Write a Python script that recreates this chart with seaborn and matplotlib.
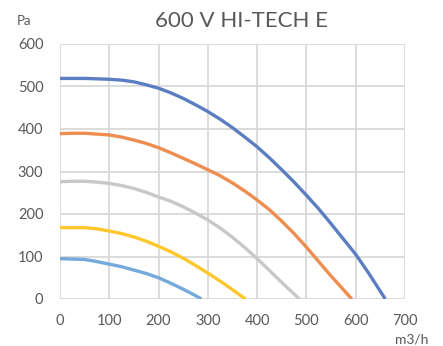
import matplotlib
matplotlib.use("Agg")
import matplotlib.pyplot as plt
import seaborn as sns
import pandas as pd

title = "600 V HI-TECH E"
x_label = "m3/h"
y_label = "Pa"

series_names = ["S1", "S2", "S3", "S4", "S5"]
colors = ["#5B7EC2", "#EE8D4F", "#C8C8C8", "#FFC72C", "#74AADB"]

x1 = [0, 25, 50, 75, 100, 125, 150, 175, 200, 225, 250, 275, 300, 325, 350,
      375, 400, 425, 450, 475, 500, 525, 550, 575, 600, 625, 645, 660]
y1 = [519, 519, 519, 518, 517, 515, 511, 504, 496, 485, 472, 457, 441, 423, 403,
      381, 358, 332, 304, 275, 244, 212, 177, 141, 105, 63, 27, 0]

x2 = [0, 25, 50, 75, 100, 125, 150, 175, 200, 225, 250, 275, 300, 325, 350,
      375, 400, 425, 450, 475, 500, 525, 550, 575, 592]
y2 = [389, 390, 390, 388, 386, 381, 374, 366, 356, 344, 331, 318, 304, 290, 273,
      254, 233, 210, 183, 154, 122, 88, 54, 22, 0]

x3 = [0, 25, 50, 75, 100, 125, 150, 175, 200, 225, 250, 275, 300, 325, 350,
      375, 400, 425, 450, 470, 486]
y3 = [276, 277, 277, 275, 272, 267, 260, 251, 240, 230, 217, 202, 186, 167, 145,
      121, 95, 67, 39, 17, 0]

x4 = [0, 25, 50, 75, 100, 125, 150, 175, 200, 225, 250, 275, 300, 325, 350, 376]
y4 = [168, 168, 168, 165, 160, 154, 146, 136, 124, 111, 96, 79, 61, 42, 22, 0]

x5 = [0, 25, 50, 75, 100, 125, 150, 175, 200, 225, 250, 270, 287]
y5 = [95, 94, 93, 88, 82, 76, 68, 60, 50, 37, 23, 11, 0]

x_ticks = [0, 100, 200, 300, 400, 500, 600, 700]
y_ticks = [0, 100, 200, 300, 400, 500, 600]

frames = []
for name, xs, ys in zip(series_names, [x1, x2, x3, x4, x5], [y1, y2, y3, y4, y5]):
    frames.append(pd.DataFrame({"flow": xs, "pressure": ys, "series": name}))
df = pd.concat(frames, ignore_index=True)

sns.set_theme(style="white")
plt.rcParams["font.family"] = ["Lato", "DejaVu Sans"]

fig = plt.figure(figsize=(4.43, 3.46), dpi=100)
ax = fig.add_axes([60 / 443, 1 - 299 / 346, 345 / 443, 255 / 346])

sns.lineplot(data=df, x="flow", y="pressure", hue="series", palette=colors,
             hue_order=series_names, linewidth=2.4, legend=False, ax=ax,
             sort=False, estimator=None)
for line in ax.lines:
    line.set_solid_capstyle("butt")
    line.set_solid_joinstyle("round")

ax.set_xlim(0, 700)
ax.set_ylim(0, 600)
ax.set_xticks(x_ticks)
ax.set_yticks(y_ticks)
ax.grid(True, color="#D9D9D9", linewidth=1.3)
ax.set_axisbelow(True)
for s in ax.spines.values():
    s.set_visible(False)
ax.tick_params(axis="both", length=0, labelsize=10.5, colors="#595959")
ax.tick_params(axis="x", pad=11)
ax.tick_params(axis="y", pad=12)
ax.set_xlabel("")
ax.set_ylabel("")

fig.text(241 / 443, 1 - 21 / 346, title, ha="center", va="center",
         fontsize=16, color="#595959")
fig.text(24 / 443, 1 - 21 / 346, y_label, ha="center", va="center",
         fontsize=9.5, color="#595959")
fig.text(412 / 443, 1 - 340 / 346, x_label, ha="center", va="center",
         fontsize=10, color="#595959")

fig.savefig("out.png", dpi=100)
